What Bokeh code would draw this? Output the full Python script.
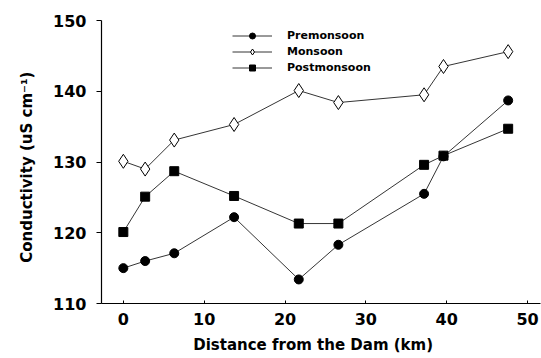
from bokeh.plotting import figure
from bokeh.models import Range1d, Legend, LegendItem, FixedTicker
from bokeh.embed import file_html
from bokeh.resources import INLINE

distance = [0, 2.7, 6.3, 13.7, 21.7, 26.6, 37.2, 39.6, 47.6]
premonsoon = [115.0, 116.0, 117.1, 122.2, 113.4, 118.3, 125.5, 130.8, 138.7]
monsoon = [130.1, 129.0, 133.1, 135.3, 140.1, 138.4, 139.5, 143.5, 145.6]
postmonsoon = [120.1, 125.1, 128.7, 125.2, 121.3, 121.3, 129.6, 130.9, 134.7]
x_ticks = [0, 10, 20, 30, 40, 50]
y_ticks = [110, 120, 130, 140, 150]

FONT = "DejaVu Sans"

p = figure(width=541, height=358, output_backend="svg", toolbar_location=None,
           x_range=Range1d(-2.7, 51.6), y_range=Range1d(110, 150),
           min_border_left=101, min_border_right=1, min_border_top=20, min_border_bottom=55)
p.outline_line_color = None
p.xgrid.grid_line_color = None
p.ygrid.grid_line_color = None
p.background_fill_color = "white"
p.border_fill_color = "white"

l1 = p.line(distance, premonsoon, line_color="black", line_width=0.8)
m1 = p.scatter(distance, premonsoon, marker="circle", size=9, fill_color="black", line_color="black")
l2 = p.line(distance, monsoon, line_color="black", line_width=0.8)
m2 = p.scatter(distance, monsoon, marker="diamond", size=14, fill_color="white", line_color="black", line_width=1)
l3 = p.line(distance, postmonsoon, line_color="black", line_width=0.8)
m3 = p.scatter(distance, postmonsoon, marker="square", size=9, fill_color="black", line_color="black")

for ax in (p.xaxis[0], p.yaxis[0]):
    ax.axis_line_color = "black"
    ax.axis_line_width = 1.2
    ax.minor_tick_line_color = None
    ax.major_label_text_font = FONT
    ax.major_label_text_font_style = "bold"
    ax.major_label_text_font_size = "16px"
    ax.major_label_text_color = "black"
    ax.axis_label_text_font = FONT
    ax.axis_label_text_font_style = "bold"
    ax.axis_label_text_font_size = "15px"
    ax.axis_label_text_color = "black"

p.xaxis.ticker = FixedTicker(ticks=x_ticks)
p.yaxis.ticker = FixedTicker(ticks=y_ticks)
p.xaxis.major_tick_in = 3
p.xaxis.major_tick_out = 0
p.yaxis.major_tick_in = 0
p.yaxis.major_tick_out = 5
p.xaxis.major_label_standoff = 9
p.yaxis.major_label_standoff = 10
p.xaxis.axis_label = "Distance  from  the  Dam (km)"
p.yaxis.axis_label = "Conductivity  (uS  cm\u207b\u00b9)"
p.xaxis.axis_label_standoff = 8
p.yaxis.axis_label_standoff = 14

legend = Legend(items=[
    LegendItem(label="Premonsoon", renderers=[l1, m1]),
    LegendItem(label="Monsoon", renderers=[l2, m2]),
    LegendItem(label="Postmonsoon", renderers=[l3, m3]),
], location=(131, 228))
legend.border_line_color = None
legend.background_fill_alpha = 0
legend.label_text_font = FONT
legend.label_text_font_style = "bold"
legend.label_text_font_size = "11px"
legend.label_text_color = "black"
legend.glyph_width = 40
legend.glyph_height = 15
legend.label_height = 15
legend.spacing = 1
legend.padding = 0
legend.margin = 0
legend.label_standoff = 15
p.add_layout(legend)

open("out.html", "w").write(file_html(p, INLINE))
